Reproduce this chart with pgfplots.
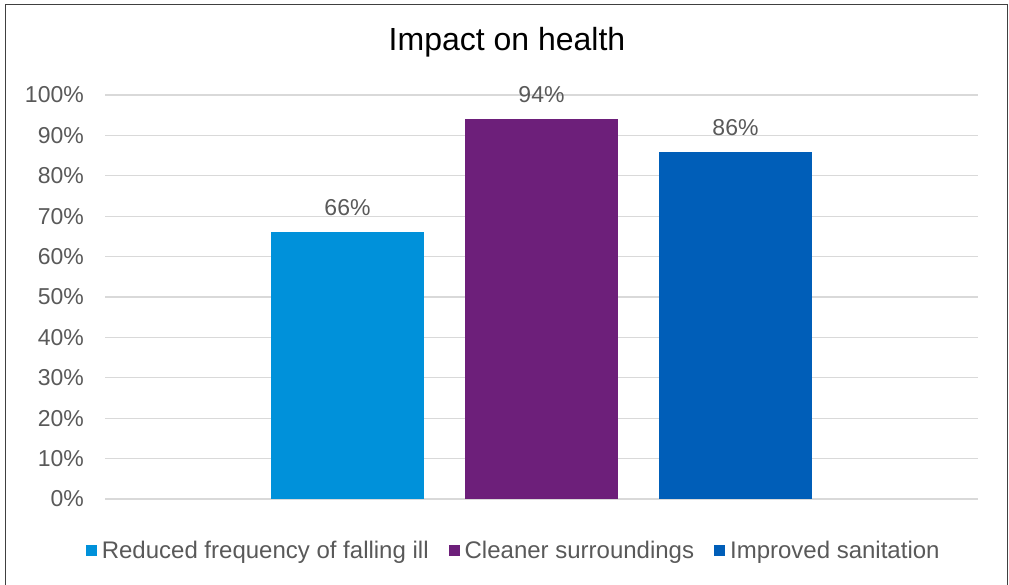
\documentclass[border=0pt]{standalone}
\usepackage{pgfplots}
\pgfplotsset{compat=1.18}
\usepackage{fontspec}
\setmainfont{Liberation Sans}
\definecolor{txt}{HTML}{595959}
\definecolor{grd}{HTML}{D9D9D9}
\definecolor{cA}{HTML}{0091DA}
\definecolor{cB}{HTML}{6D1F7A}
\definecolor{cC}{HTML}{005EB8}
\begin{document}
\begin{tikzpicture}[x=1bp,y=1bp]
\useasboundingbox (0,0) rectangle (1009,585);
\draw[color=black!75, line width=1.5bp] (5.5,0) -- (5.5,580.5) -- (1007.5,580.5) -- (1007.5,0);
\begin{axis}[
  at={(105bp,86bp)}, anchor=south west,
  width=873bp, height=404bp, scale only axis,
  /pgf/number format/assume math mode=true,
  ybar, bar width=153bp,
  xmin=-0.5, xmax=0.5,
  ymin=0, ymax=100,
  xtick=\empty,
  ytick={0,10,...,100},
  yticklabels={0\%,10\%,20\%,30\%,40\%,50\%,60\%,70\%,80\%,90\%,100\%},
  yticklabel style={font=\fontsize{23bp}{26bp}\selectfont, text=txt, inner sep=0pt, xshift=-21bp},
  major tick length=0pt,
  ymajorgrids, grid style={grd, line width=1.3bp},
  axis line style={draw=none},
  title={Impact on health},
  title style={at={(0.4605,1.0965)}, anchor=base, inner sep=0pt, font=\fontsize{32bp}{36bp}\selectfont, text=black},
  nodes near coords={\pgfmathprintnumber[assume math mode=true]{\pgfplotspointmeta}\%},
  every node near coord/.append style={font=\fontsize{23bp}{26bp}\selectfont, text=txt, anchor=south, inner sep=0pt, yshift=16bp},
  legend style={at={(0.467,-0.1287)}, anchor=center, draw=none, fill=none,
    font=\fontsize{24bp}{27bp}\selectfont, text=txt,
    nodes={inner sep=0pt},
    /tikz/every even column/.append style={column sep=20bp},
    /tikz/every odd column/.append style={column sep=5bp}},
  legend columns=-1,
  legend image code/.code={\fill[#1] (0bp,-5.5bp) rectangle (11bp,5.5bp);},
]
\addplot[fill=cA, draw=none, bar shift=-194bp] coordinates {(0,66)};
\addplot[fill=cB, draw=none, bar shift=0bp] coordinates {(0,94)};
\addplot[fill=cC, draw=none, bar shift=194bp] coordinates {(0,86)};
\legend{Reduced frequency of falling ill, Cleaner surroundings, Improved sanitation}
\end{axis}
\end{tikzpicture}
\end{document}
